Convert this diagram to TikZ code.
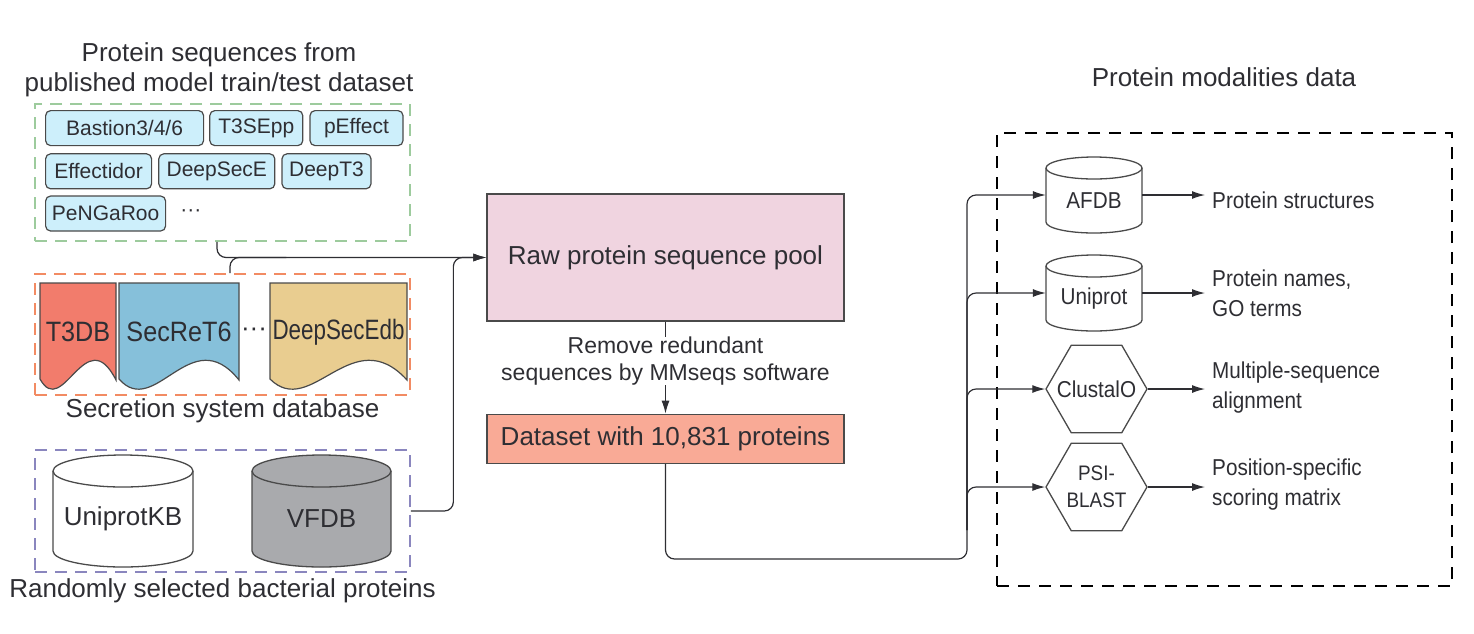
\documentclass[tikz,border=0pt]{standalone}
\usepackage{fontspec}
\setmainfont{Liberation Sans}
\newfontfamily\narrowfont{Liberation Sans}[FakeStretch=0.9]
\newfontfamily\narrowerfont{Liberation Sans}[FakeStretch=0.8]
\usetikzlibrary{positioning,shapes.geometric,arrows.meta,calc}
\definecolor{ink}{HTML}{2E2E33}
\definecolor{edge}{HTML}{4A4A4A}
\definecolor{toolfill}{HTML}{CDEFFB}
\definecolor{greendash}{HTML}{9DCB9D}
\definecolor{orangedash}{HTML}{F28B63}
\definecolor{purpledash}{HTML}{8A86BE}
\definecolor{poolfill}{HTML}{F0D4E0}
\definecolor{datafill}{HTML}{F9AA96}
\definecolor{tdbfill}{HTML}{F27C6C}
\definecolor{secfill}{HTML}{86C0DA}
\definecolor{dsefill}{HTML}{E9CD90}
\definecolor{vffill}{HTML}{A9AAAD}
\newcommand{\ttlfnt}{\fontsize{26}{30}\selectfont}
\newcommand{\toolfnt}{\fontsize{21}{24}\selectfont}
\newcommand{\notefnt}{\fontsize{23}{27}\selectfont}
\newcommand{\sidefnt}{\narrowfont\fontsize{23}{30}\selectfont}
\newcommand{\psifnt}{\narrowfont\fontsize{21}{27}\selectfont}
\newcommand{\docfnt}{\narrowfont\fontsize{28}{32}\selectfont}
\newcommand{\docnfnt}{\narrowerfont\fontsize{28}{32}\selectfont}
\tikzset{tool/.style={draw=edge,fill=toolfill,line width=1.2pt,rounded corners=5pt,minimum height=35pt,inner sep=0pt,font=\toolfnt},
         groupbox/.style={draw=#1,dash pattern=on 12pt off 8pt,line width=1.6pt,inner sep=0pt},
         heading/.style={font=\ttlfnt,align=center,inner sep=0pt},
         stagebox/.style={draw=edge,line width=1.3pt,minimum width=357pt,inner sep=0pt,font=\ttlfnt},
         hexa/.style={draw=edge,line width=1.3pt,regular polygon,regular polygon sides=6,minimum size=101pt,inner sep=0pt},
         outlabel/.style={anchor=west,align=left,font=\sidefnt,inner xsep=7pt,inner ysep=0pt},
         line/.style={draw=ink,line width=1.2pt,rounded corners=9pt},
         arrow/.style={line,-{Latex[length=13pt,width=8pt]}}
}
% name, cx, top, bottom, rx, ry, fill, font, text
\newcommand{\dbcan}[9]{%
  \fill[#7] (#2-#5,#3+#6) rectangle (#2+#5,#4-#6);
  \fill[#7] (#2,#4-#6) ellipse[x radius=#5,y radius=#6];
  \draw[edge,line width=1.3pt] (#2-#5,#3+#6) -- (#2-#5,#4-#6) .. controls +(0,0.552*#6) and +(-0.552*#5,0) .. (#2,#4)
    .. controls +(0.552*#5,0) and +(0,0.552*#6) .. (#2+#5,#4-#6) -- (#2+#5,#3+#6);
  \filldraw[fill=#7,draw=edge,line width=1.3pt] (#2,#3+#6) ellipse[x radius=#5,y radius=#6];
  \node[inner sep=0pt,minimum width=2*#5pt,minimum height=#4pt-#3pt] (#1) at (#2,{(#3+#4)/2}) {};
  \node[font=#8,inner sep=0pt] (#1-t) at (#2,{(#3+#4)/2+#6/2}) {#9};
}
% name, left, right, fill, font, text
\newcommand{\secdoc}[6]{%
  \filldraw[fill=#4,draw=edge,line width=1.2pt] (#2,283) -- (#3,283) -- (#3,380)
    .. controls ({#2+0.6*(#3-#2)},320) and ({#2+0.3*(#3-#2)},420) .. (#2,379) -- cycle;
  \node[font=#5,inner sep=0pt] (#1) at ({(#2+#3)/2},332) {#6};
}

\begin{document}
\begin{tikzpicture}[x=1pt,y=-1pt,every node/.append style={text=ink}]
\useasboundingbox (0,0) rectangle (1474,633);

% published model datasets
\node[groupbox=greendash,minimum width=375pt,minimum height=137pt] (published) at (222.5,172.5) {};
\node[heading] (pubtitle) at (219,70) {Protein sequences from\\published model train/test dataset};
\node[tool,minimum width=158pt,anchor=north west] (bastion) at (45,110) {Bastion3/4/6};
\node[tool,minimum width=93pt,right=5pt of bastion] (t3sepp) {T3SEpp};
\node[tool,minimum width=93pt,right=6pt of t3sepp] (peffect) {pEffect};
\node[tool,minimum width=106pt,below=7pt of bastion.south west,anchor=north west] (effectidor) {Effectidor};
\node[tool,minimum width=116pt,right=6pt of effectidor] (deepsece) {DeepSecE};
\node[tool,minimum width=89pt,right=6pt of deepsece] (deept3) {DeepT3};
\node[tool,minimum width=120pt,below=6pt of effectidor.south west,anchor=north west] (pengaroo) {PeNGaRoo};
\node[font=\toolfnt,inner sep=0pt,right=14pt of pengaroo] (tooldots) {···};

% secretion system databases
\node[groupbox=orangedash,minimum width=375pt,minimum height=121pt] (secretion) at (222.5,334.5) {};
\secdoc{t3db}{40}{116}{tdbfill}{\docfnt}{T3DB}
\secdoc{secret6}{119}{239}{secfill}{\docfnt}{SecReT6}
\secdoc{deepsecedb}{270}{407}{dsefill}{\docnfnt}{DeepSecEdb}
\node[font=\ttlfnt,inner sep=0pt] (docdots) at (254,332) {···};
\node[heading,below=3pt of secretion] (sectitle) {Secretion system database};

% random bacterial proteins
\node[groupbox=purpledash,minimum width=375pt,minimum height=122pt] (random) at (222.5,511) {};
\dbcan{uniprotkb}{123}{455}{567}{70}{16}{white}{\ttlfnt}{UniprotKB}
\dbcan{vfdb}{321.5}{455}{567}{69.5}{16}{vffill}{\ttlfnt}{VFDB}
\node[heading,below=6pt of random] (randtitle) {Randomly selected bacterial proteins};

% pool and dataset
\node[stagebox,fill=poolfill,minimum height=127pt] (pool) at (665.5,257.5) {Raw protein sequence pool};
\node[font=\notefnt,align=center,inner sep=0pt,below=15pt of pool] (remove) {Remove redundant\\sequences by MMseqs software};
\node[stagebox,fill=datafill,minimum height=49pt,below=92pt of pool] (data) {Dataset with 10,831 proteins};

% modalities
\node[groupbox=black,dash pattern=on 12pt off 9pt,minimum width=455pt,minimum height=453pt] (modal) at (1224.5,359.5) {};
\node[heading] (modtitle) at (1224,77) {Protein modalities data};
\dbcan{afdb}{1094}{157}{233}{48}{11}{white}{\sidefnt}{AFDB}
\dbcan{uniprot}{1094}{255}{331}{48}{11}{white}{\sidefnt}{Uniprot}
\node[hexa] (clustalo) at (1096.5,389) {};
\node[font=\sidefnt,inner sep=0pt] (clustalo-t) at (clustalo.center) {ClustalO};
\node[hexa] (psiblast) at (1096.5,487) {};
\node[font=\psifnt,align=center,inner sep=0pt] (psiblast-t) at (psiblast.center) {PSI-\\BLAST};
\node[outlabel] (structs) at (1205,200) {Protein structures};
\node[outlabel] (names) at (1205,293) {Protein names,\\GO terms};
\node[outlabel] (msa) at (1205,388) {Multiple-sequence\\alignment};
\node[outlabel] (pssm) at (1205,485) {Position-specific\\scoring matrix};

% connectors
\draw[arrow] ([xshift=-5.5pt]published.south) |- (pool.west);
\draw[line] ([xshift=7.5pt]secretion.north) |- ($(pool.west)+(-200,0)$);
\draw[arrow] (random.east) -| ($(pool.west)+(-33,0)$) -- (pool.west);
\draw[line] (pool.south) -- (remove.north);
\draw[arrow] (remove.south) -- (data.north);
\coordinate (trunk) at (967,559);
\coordinate (trunkup) at (967,530);
\draw[arrow] (data.south) |- (trunk) |- (afdb.west);
\draw[arrow] (trunkup) |- (uniprot.west);
\draw[arrow] (trunkup) |- (clustalo.west);
\draw[arrow] (trunkup) |- (psiblast.west);
\draw[arrow] (afdb.east) -- (afdb.east -| structs.west);
\draw[arrow] (uniprot.east) -- (uniprot.east -| names.west);
\draw[arrow] (clustalo.east) -- (clustalo.east -| msa.west);
\draw[arrow] (psiblast.east) -- (psiblast.east -| pssm.west);

\end{tikzpicture}
\end{document}
